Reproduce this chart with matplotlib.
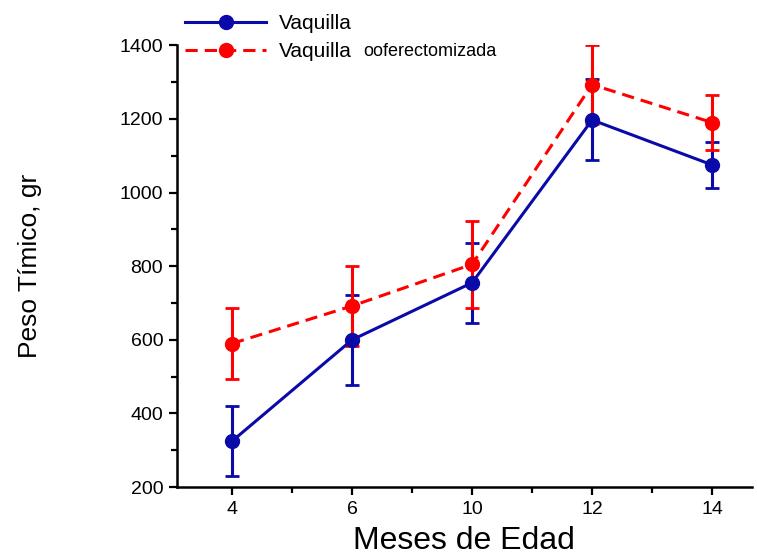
import matplotlib
matplotlib.use("Agg")
import matplotlib.pyplot as plt
from matplotlib.ticker import MultipleLocator

plt.rcParams['font.family'] = ['Liberation Sans', 'DejaVu Sans']

# datos
meses = ['4', '6', '10', '12', '14']
vaquilla = [325, 600, 755, 1197, 1075]
vaquilla_err = [95, 122, 108, 110, 63]
oofer = [590, 692, 805, 1293, 1190]
oofer_err = [96, 108, 118, 107, 75]

azul = '#0a0aa8'
rojo = '#ff0000'

fig = plt.figure(figsize=(7.57, 5.58), dpi=100)
ax = fig.add_axes([0.234, 0.127, 0.759, 0.792])

x = list(range(len(meses)))

c1 = ax.errorbar(x, vaquilla, yerr=vaquilla_err, color=azul, lw=2.2, marker='o',
                 ms=10, capsize=5, capthick=2, elinewidth=2.2, label='Vaquilla')
c2 = ax.errorbar(x, oofer, yerr=oofer_err, color=rojo, lw=2.2, ls=(0, (4, 2.3)),
                 marker='o', ms=10, capsize=5, capthick=2, elinewidth=2.2,
                 label='Vaquilla')

ax.set_xlim(-0.458, 4.33)
ax.set_ylim(200, 1400)
ax.set_xticks(x)
ax.set_xticklabels(meses)
ax.xaxis.set_minor_locator(MultipleLocator(0.5))
ax.yaxis.set_major_locator(MultipleLocator(200))
ax.yaxis.set_minor_locator(MultipleLocator(100))

for s in ['top', 'right']:
    ax.spines[s].set_visible(False)
for s in ['left', 'bottom']:
    ax.spines[s].set_linewidth(1.8)

ax.tick_params(which='major', length=6, width=1.6, labelsize=14, pad=4)
ax.tick_params(which='minor', length=4, width=1.6)

ax.set_xlabel('Meses de Edad', fontsize=23, labelpad=6)
ax.set_ylabel('Peso Tímico, gr', fontsize=19, labelpad=56)

leg = fig.legend(handles=[c1[0], c2[0]], labels=['Vaquilla', 'Vaquilla'],
                 loc='upper left', bbox_to_anchor=(185 / 757, 1 - 14 / 558),
                 frameon=False, fontsize=15, handlelength=3.9,
                 handletextpad=0.6, labelspacing=0.45, borderpad=0,
                 borderaxespad=0)

# segunda etiqueta con "ooferectomizada" en letra mas chica
fig.canvas.draw()
t2 = leg.get_texts()[1]
bb = t2.get_window_extent().transformed(fig.transFigure.inverted())
fig.text(bb.x1 + 12 / 757, (bb.y0 + bb.y1) / 2, 'ooferectomizada',
         fontsize=13, va='center', ha='left')

fig.savefig('out.png', dpi=100)
